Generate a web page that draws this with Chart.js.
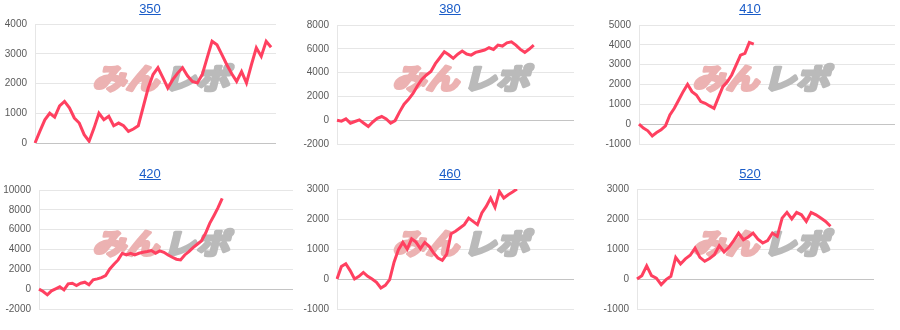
<!DOCTYPE html>
<html>
<head>
<meta charset="utf-8">
<script src="https://cdn.jsdelivr.net/npm/chart.js@4.4.1/dist/chart.umd.min.js"></script>
<style>
body { margin: 0; background: #fff; }
#wrap { position: relative; width: 900px; height: 330px; }
.panel { position: absolute; width: 300px; height: 165px; }
.panel canvas { position: absolute; left: 0; top: 0; }
.title { position: absolute; left: 0; top: 0; width: 300px; text-align: center; line-height: 17px;
  font-family: "Liberation Sans", Arial, sans-serif; font-size: 13px; z-index: 2; }
.title a { color: #1a5cc8; text-decoration: underline; }
</style>
</head>
<body>
<div id="wrap"></div>
<script>
// chart titles
let titles = ['350', '380', '410', '420', '460', '520'];

// how many x slots each chart's axis has (data only fills part of some)
let slotCounts = [50, 54, 59, 62, 55, 50];

// y tick labels per chart
let yTicks = [
    [0, 1000, 2000, 3000, 4000],
    [-2000, 0, 2000, 4000, 6000, 8000],
    [-1000, 0, 1000, 2000, 3000, 4000, 5000],
    [-2000, 0, 2000, 4000, 6000, 8000, 10000],
    [-1000, 0, 1000, 2000, 3000],
    [-1000, 0, 1000, 2000, 3000]
];

let values350 = [0, 400, 780, 1000, 870, 1250, 1400, 1180, 840, 670, 280, 60, 500, 1000, 785, 900, 580, 670, 580, 390,
    470, 580, 1210, 1840, 2300, 2530, 2200, 1850, 2130, 2350, 2530, 2260, 2070, 2020, 2300, 2860, 3420, 3300, 2970, 2630,
    2330, 2070, 2400, 2020, 2630, 3200, 2910, 3420, 3220];
let values380 = [0, -80, 110, -250, -110, 30, -250, -530, -150, 150, 310, 100, -250, -30, 700, 1350, 1750, 2250, 2900, 3450,
    3800, 4100, 4750, 5250, 5750, 5500, 5200, 5550, 5810, 5560, 5470, 5700, 5800, 5900, 6090, 5950, 6310, 6230, 6500, 6590,
    6310, 5950, 5700, 5980, 6310];
let values410 = [0, -200, -335, -590, -420, -285, -85, 470, 800, 1220, 1640, 2010, 1640, 1470, 1140, 1055, 920, 800, 1350, 1890,
    2140, 2480, 2980, 3480, 3570, 4120, 4040];
let values420 = [0, -235, -570, -170, 30, 235, -70, 540, 600, 370, 600, 700, 440, 940, 1040, 1170, 1370, 2040, 2510, 2950,
    3620, 3450, 3620, 3450, 3620, 3720, 3790, 3890, 3620, 3860, 3720, 3450, 3220, 3020, 2950, 3450, 3790, 4190, 4530, 4860,
    5630, 6640, 7410, 8220, 9160];
let values460 = [0, 420, 510, 280, 0, 90, 220, 90, 0, -110, -300, -210, -20, 560, 980, 1220, 1000, 1340, 1230, 1010,
    1220, 1090, 870, 700, 620, 830, 1510, 1590, 1700, 1810, 2030, 1920, 1810, 2200, 2420, 2700, 2390, 2920, 2700, 2810,
    2900, 3000];
let values520 = [0, 110, 440, 110, 30, -190, -20, 90, 720, 500, 670, 790, 1030, 720, 590, 680, 810, 1110, 900, 1060,
    1280, 1530, 1310, 1400, 1530, 1330, 1200, 1280, 1530, 1420, 2030, 2220, 2000, 2220, 2140, 1920, 2220, 2140, 2030, 1920,
    1760];

let allValues = [values350, values380, values410, values420, values460, values520];

// plot area inside each 300x165 panel: left, right, top, bottom
let plotBoxes = [
    [35, 276, 24, 143],
    [37, 274, 25, 144],
    [39, 295, 25, 144],
    [39, 293, 25, 144],
    [37, 274, 24, 144],
    [37, 274, 24, 144]
];

// the "みんレポ" mark behind each line, stroked to get a heavy look
const watermark = {
    id: 'watermark',
    beforeDatasetsDraw(chart) {
        let ctx = chart.ctx;
        ctx.save();
        ctx.translate(165, 77);
        ctx.transform(1, 0, -0.25, 1, 0, 0);
        ctx.scale(1.1, 0.95);
        ctx.font = 'bold 30px "Noto Sans CJK JP"';
        ctx.textBaseline = 'middle';
        ctx.lineWidth = 3.5;
        ctx.lineJoin = 'round';

        ctx.textAlign = 'right';
        ctx.fillStyle = ctx.strokeStyle = 'rgb(236, 178, 178)';
        ctx.strokeText('みん', -3, 1);
        ctx.fillText('みん', -3, 1);

        ctx.textAlign = 'left';
        ctx.fillStyle = ctx.strokeStyle = 'rgb(186, 186, 186)';
        ctx.strokeText('レポ', 1, 1);
        ctx.fillText('レポ', 1, 1);
        ctx.restore();
    }
};

function makePanel(i) {
    let panel = document.createElement('div');
    panel.className = 'panel';
    panel.style.left = (i % 3) * 300 + 'px';
    panel.style.top = Math.floor(i / 3) * 165 + 'px';
    panel.innerHTML = `<div class="title"><a href="#">${titles[i]}</a></div><canvas width="300" height="165"></canvas>`;
    document.getElementById('wrap').appendChild(panel);
    return panel.querySelector('canvas');
}

function renderChart(i) {
    let ctx = makePanel(i).getContext('2d');
    let box = plotBoxes[i];
    let ticks = yTicks[i];
    let labels = [];
    for (let k = 0; k < slotCounts[i]; k++) {
        labels.push(k + 1);
    }

    new Chart(ctx, {
        type: 'line',
        data: {
            labels: labels,
            datasets: [{
                data: allValues[i],
                borderColor: 'rgb(255, 64, 96)',
                borderWidth: 3,
                pointRadius: 0,
                tension: 0,
                fill: false
            }]
        },
        options: {
            responsive: false,
            animation: false,
            events: [],
            layout: {
                padding: { left: 0, right: 300 - box[1], top: box[2], bottom: 165 - box[3] }
            },
            plugins: {
                legend: { display: false },
                tooltip: { enabled: false }
            },
            scales: {
                x: { display: false },
                y: {
                    min: ticks[0],
                    max: ticks[ticks.length - 1],
                    afterFit: function(scale) { scale.width = box[0]; },
                    afterBuildTicks: function(scale) {
                        scale.ticks = ticks.map(v => ({ value: v }));
                    },
                    ticks: {
                        padding: 8,
                        color: '#5a5a5a',
                        font: { family: '"Liberation Sans", Arial, sans-serif', size: 10 },
                        callback: v => String(v)
                    },
                    grid: {
                        drawTicks: false,
                        color: c => c.tick && c.tick.value === 0 ? '#c4c4c4' : '#e6e6e6',
                        lineWidth: 1
                    },
                    border: { display: true, color: '#e6e6e6' }
                }
            }
        },
        plugins: [watermark]
    });
}

for (let i = 0; i < titles.length; i++) {
    renderChart(i);
}
</script>
</body>
</html>
